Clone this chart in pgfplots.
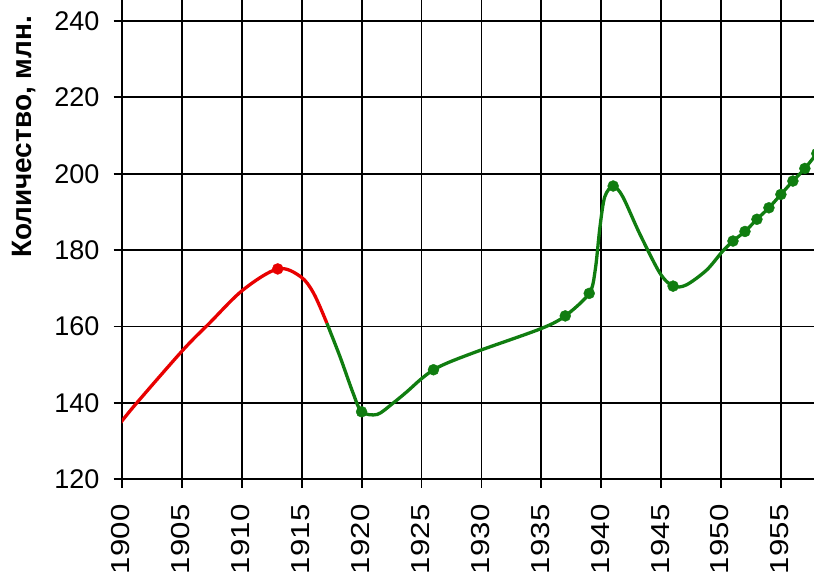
\documentclass[border=0pt]{standalone}
\usepackage{fontspec}
\setmainfont{Liberation Sans}
\newfontfamily\xlabfont{Liberation Sans}[FakeStretch=1.2]
\usepackage{pgfplots}
\pgfplotsset{compat=1.18}

\definecolor{cRed}{RGB}{232,0,0}
\definecolor{cGreen}{RGB}{16,125,16}

\begin{document}
\begin{tikzpicture}
\begin{axis}[
    at={(0,0)}, anchor=south west,
    x=11.98pt, y=3.82pt,
    xmin=1900, xmax=1960,
    ymin=120, ymax=250,
    xtick={1900,1905,...,1955},
    ytick={120,140,...,240},
    grid=major,
    major grid style={black, line width=1.8pt},
    axis line style={black, line width=1.8pt},
    tick style={black, line width=1.8pt},
    tick align=outside,
    major tick length=8.5pt,
    tick pos=left,
    /pgf/number format/assume math mode=true,
    xticklabel={\pgfmathprintnumber[1000 sep={}]{\tick}},
    yticklabel style={font=\fontsize{27}{30}\selectfont, anchor=east, inner sep=0pt, xshift=-14pt},
    xticklabel style={font=\xlabfont\fontsize{26}{30}\selectfont, yshift=-16.5pt, xshift=-1pt, rotate=90, anchor=east, inner sep=0pt},
]
% Before 1917
\addplot[cRed, line width=3.3pt, smooth, tension=0.55] coordinates {
    (1899.8,134.5) (1901.2,139.9) (1905.1,153.9) (1907.3,160.9) (1910.1,169.6)
    (1913,175.1) (1914.9,173.1) (1916,168.7) (1917.1,160.9)
};
\addplot[cRed, only marks, mark=*, mark size=5.5pt] coordinates {(1913,175.1)};
% After 1917
\addplot[cGreen, line width=3.3pt, smooth, tension=0.5] coordinates {
    (1917.1,160.9) (1918.2,152.1) (1919.3,142.5) (1920,137.7) (1921.3,137.0)
    (1922.6,139.9) (1923.8,143.0) (1924.9,146.1) (1926,148.7) (1927.4,150.8)
    (1930,153.9) (1935,159.5) (1937,162.8) (1939,168.7) (1939.5,174.8)
    (1939.9,186.2) (1940.3,194.0) (1941,196.8) (1941.8,194.0) (1943.2,184.4)
    (1944.9,174.0) (1946,170.6) (1947.1,170.9) (1948.8,174.8) (1950.1,179.6)
    (1951,182.4) (1952,184.9) (1953,188.1) (1954,191.1) (1955,194.6)
    (1956,198.1) (1957,201.4) (1958,205.3) (1959,209.0)
};
\addplot[cGreen, only marks, mark=*, mark size=5.5pt] coordinates {
    (1920,137.7) (1926,148.7) (1937,162.8) (1939,168.7) (1941,196.8)
    (1946,170.6) (1951,182.4) (1952,184.9) (1953,188.1) (1954,191.1)
    (1955,194.6) (1956,198.1) (1957,201.4) (1958,205.3)
};
\end{axis}
\node[rotate=90, font=\bfseries\fontsize{28}{30}\selectfont] at (-98pt,342.4pt) {Количество, млн.};
\pgfresetboundingbox
\path[use as bounding box] (-122pt,-97.6pt) rectangle (692pt,479.4pt);
\end{tikzpicture}
\end{document}
